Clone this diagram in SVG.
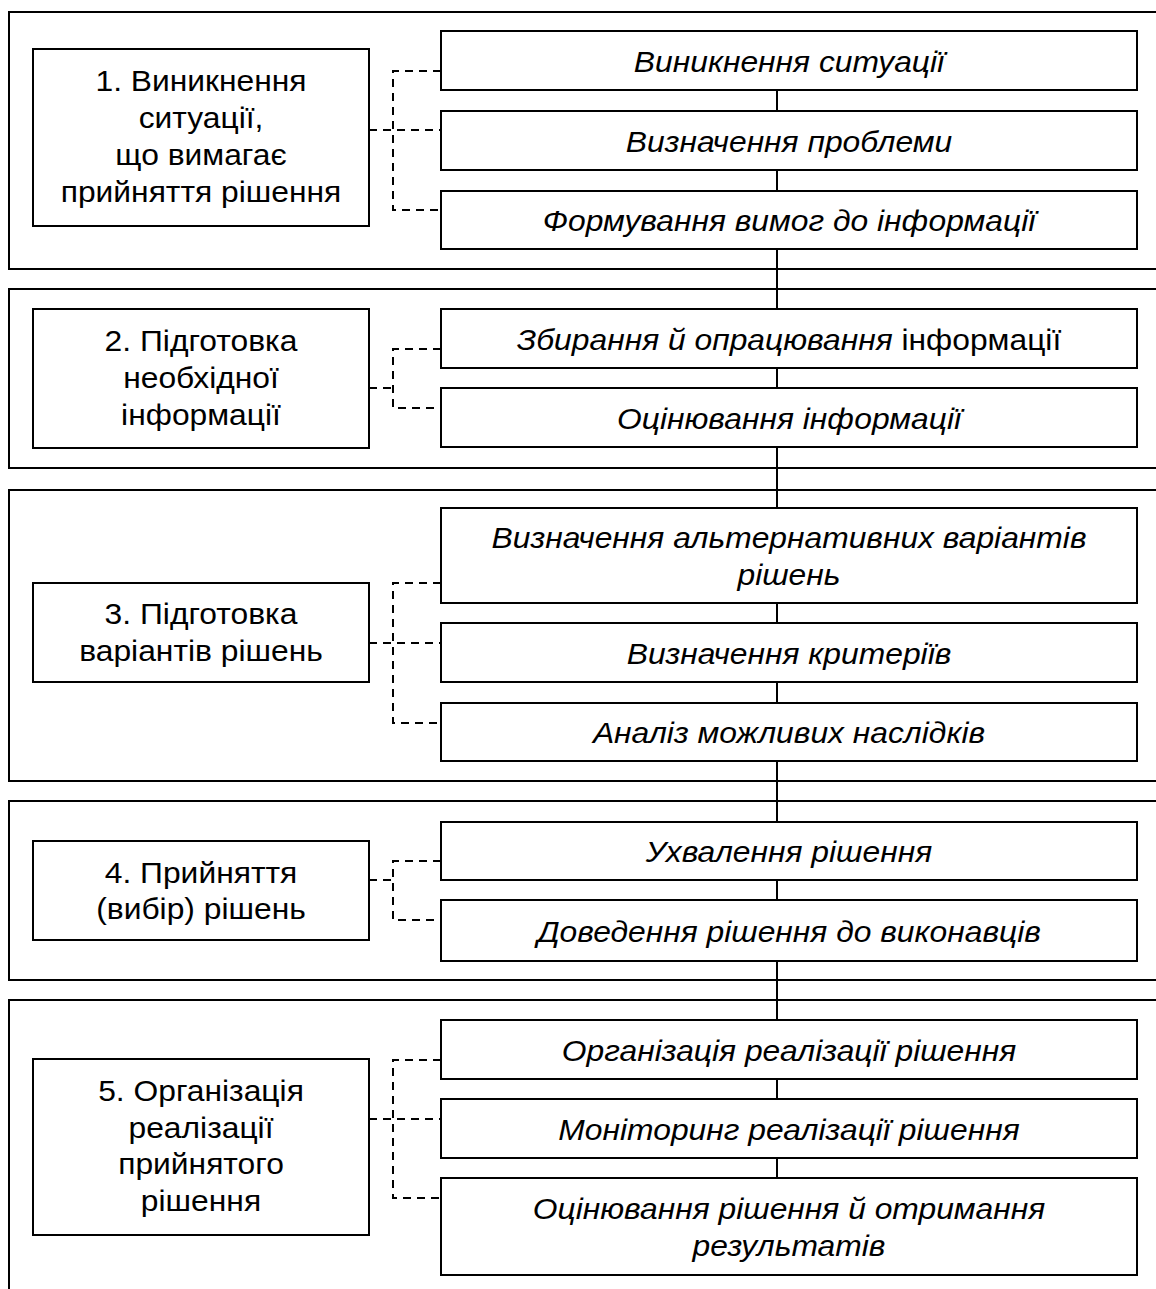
<svg xmlns="http://www.w3.org/2000/svg" width="1156" height="1289" viewBox="0 0 1156 1289">
<style>
.sec{fill:none;stroke:#000;stroke-width:2}
.box{fill:#fff;stroke:#000;stroke-width:2}
.ln{fill:none;stroke:#000;stroke-width:2}
.dash{fill:none;stroke:#000;stroke-width:2;stroke-dasharray:8 6}
.lt{font-family:"Liberation Sans",Arial,sans-serif;font-size:30px;text-anchor:middle;fill:#000}
.rt{font-family:"Liberation Sans",Arial,sans-serif;font-size:30px;font-style:italic;text-anchor:middle;fill:#000}
</style>
<rect width="1156" height="1289" fill="#fff"/>
<g id="sections">
<rect class="sec" x="9" y="12" width="1160" height="257"/>
<rect class="sec" x="9" y="289" width="1160" height="179"/>
<rect class="sec" x="9" y="490" width="1160" height="291"/>
<rect class="sec" x="9" y="801" width="1160" height="179"/>
<rect class="sec" x="9" y="1000" width="1160" height="320"/>
</g>
<g id="connectors">
<line class="ln" x1="777" y1="90" x2="777" y2="1178"/>
<path class="dash" d="M441,71 H393 V210 H441"/>
<path class="dash" d="M369,130 H441"/>
<path class="dash" d="M441,349 H393 V408 H441"/>
<path class="dash" d="M369,388 H393"/>
<path class="dash" d="M441,583 H393 V723 H441"/>
<path class="dash" d="M369,643 H441"/>
<path class="dash" d="M441,861 H393 V920 H441"/>
<path class="dash" d="M369,880 H393"/>
<path class="dash" d="M441,1060 H393 V1198 H441"/>
<path class="dash" d="M369,1119 H441"/>
</g>
<g id="stage1">
<rect class="box" x="33" y="49" width="336" height="177"/>
<g transform="translate(201,0) scale(1.06,1)">
<text class="lt" x="0" y="91">1. Виникнення</text>
<text class="lt" x="0" y="128">ситуації,</text>
<text class="lt" x="0" y="165">що вимагає</text>
<text class="lt" x="0" y="202">прийняття рішення</text>
</g>
</g>
<g id="s1a"><rect class="box" x="441" y="31" width="696" height="59"/><text class="rt" transform="translate(789,0) scale(1.06,1)" x="0" y="72">Виникнення ситуації</text></g>
<g id="s1b"><rect class="box" x="441" y="111" width="696" height="59"/><text class="rt" transform="translate(789,0) scale(1.06,1)" x="0" y="152">Визначення проблеми</text></g>
<g id="s1c"><rect class="box" x="441" y="191" width="696" height="58"/><text class="rt" transform="translate(789,0) scale(1.06,1)" x="0" y="231">Формування вимог до інформації</text></g>
<g id="stage2">
<rect class="box" x="33" y="309" width="336" height="139"/>
<g transform="translate(201,0) scale(1.06,1)">
<text class="lt" x="0" y="351">2. Підготовка</text>
<text class="lt" x="0" y="388">необхідної</text>
<text class="lt" x="0" y="425">інформації</text>
</g>
</g>
<g id="s2a"><rect class="box" x="441" y="309" width="696" height="59"/><text class="rt" transform="translate(789,0) scale(1.06,1)" x="0" y="350">Збирання й опрацювання <tspan font-style="normal">інформації</tspan></text></g>
<g id="s2b"><rect class="box" x="441" y="388" width="696" height="59"/><text class="rt" transform="translate(789,0) scale(1.06,1)" x="0" y="429">Оцінювання інформації</text></g>
<g id="stage3">
<rect class="box" x="33" y="583" width="336" height="99"/>
<g transform="translate(201,0) scale(1.06,1)">
<text class="lt" x="0" y="624">3. Підготовка</text>
<text class="lt" x="0" y="661">варіантів рішень</text>
</g>
</g>
<g id="s3a"><rect class="box" x="441" y="508" width="696" height="95"/><g transform="translate(789,0) scale(1.06,1)"><text class="rt" x="0" y="548">Визначення альтернативних варіантів</text><text class="rt" x="0" y="585">рішень</text></g></g>
<g id="s3b"><rect class="box" x="441" y="623" width="696" height="59"/><text class="rt" transform="translate(789,0) scale(1.06,1)" x="0" y="664">Визначення критеріїв</text></g>
<g id="s3c"><rect class="box" x="441" y="703" width="696" height="58"/><text class="rt" transform="translate(789,0) scale(1.06,1)" x="0" y="743">Аналіз можливих наслідків</text></g>
<g id="stage4">
<rect class="box" x="33" y="841" width="336" height="99"/>
<g transform="translate(201,0) scale(1.06,1)">
<text class="lt" x="0" y="883">4. Прийняття</text>
<text class="lt" x="0" y="919">(вибір) рішень</text>
</g>
</g>
<g id="s4a"><rect class="box" x="441" y="822" width="696" height="58"/><text class="rt" transform="translate(789,0) scale(1.06,1)" x="0" y="862">Ухвалення рішення</text></g>
<g id="s4b"><rect class="box" x="441" y="900" width="696" height="61"/><text class="rt" transform="translate(789,0) scale(1.06,1)" x="0" y="942">Доведення рішення до виконавців</text></g>
<g id="stage5">
<rect class="box" x="33" y="1059" width="336" height="176"/>
<g transform="translate(201,0) scale(1.06,1)">
<text class="lt" x="0" y="1101">5. Організація</text>
<text class="lt" x="0" y="1138">реалізації</text>
<text class="lt" x="0" y="1174">прийнятого</text>
<text class="lt" x="0" y="1211">рішення</text>
</g>
</g>
<g id="s5a"><rect class="box" x="441" y="1020" width="696" height="59"/><text class="rt" transform="translate(789,0) scale(1.06,1)" x="0" y="1061">Організація реалізації рішення</text></g>
<g id="s5b"><rect class="box" x="441" y="1099" width="696" height="59"/><text class="rt" transform="translate(789,0) scale(1.06,1)" x="0" y="1140">Моніторинг реалізації рішення</text></g>
<g id="s5c"><rect class="box" x="441" y="1178" width="696" height="97"/><g transform="translate(789,0) scale(1.06,1)"><text class="rt" x="0" y="1219">Оцінювання рішення й отримання</text><text class="rt" x="0" y="1256">результатів</text></g></g>
</svg>
